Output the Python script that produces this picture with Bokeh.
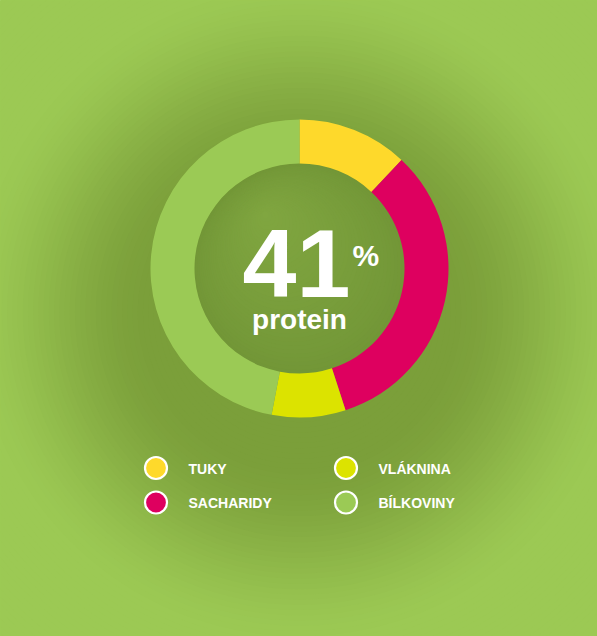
import math
from bokeh.plotting import figure
from bokeh.models import Range1d
from bokeh.core.properties import value
from bokeh.embed import file_html
from bokeh.resources import INLINE

# ---- data ----
categories = ["TUKY", "SACHARIDY", "VLÁKNINA", "BÍLKOVINY"]
shares = [12, 33, 8, 47]
colors = ["#FED92B", "#DE005F", "#DCE300", "#9BCA55"]
headline_value = "41"
headline_unit = "%"
headline_label = "protein"

W, H = 597, 636
BG_OUT = (0x9C, 0xC9, 0x54)
BG_IN = (0x7B, 0x9F, 0x3A)
DISC_DARK = (0x72, 0x96, 0x37)
DISC_LIGHT = (0x80, 0xA6, 0x40)

p = figure(width=W, height=H, output_backend="svg", toolbar_location=None,
           x_range=Range1d(0, W), y_range=Range1d(0, H),
           min_border=0, outline_line_color=None)
p.axis.visible = False
p.grid.visible = False
p.background_fill_color = "#9CC954"
p.border_fill_color = "#9CC954"

def Y(y):
    return H - y

def mix(a, b, t):
    return "#%02x%02x%02x" % tuple(int(round(a[i] + (b[i] - a[i]) * t)) for i in range(3))

# radial background gradient
gx, gy = 299, 312
N = 90
rs, cs = [], []
for k in range(N):
    r = 470 * (1 - k / N)
    t = (r - 150) / (340 - 150)
    t = min(1, max(0, t))
    t = t * t * (3 - 2 * t)
    rs.append(r)
    cs.append(mix(BG_IN, BG_OUT, t))
p.circle(x=[gx] * N, y=[Y(gy)] * N, radius=rs, fill_color=cs, line_color=None)

# donut
cx, cy = 299, 268
r_in, r_out = 105, 149
fx, fy = cx - 35, cy - 55
M = 40
dxs, dys, drs, dcs = [], [], [], []
for k in range(M):
    f = k / M
    dxs.append(cx + (fx - cx) * f)
    dys.append(Y(cy + (fy - cy) * f))
    drs.append(r_in * (1 - f) + 0.5)
    dcs.append(mix(DISC_DARK, DISC_LIGHT, f ** 0.8))
p.circle(x=dxs, y=dys, radius=drs, fill_color=dcs, line_color=None)

total = sum(shares)
starts, ends = [], []
acc = 0
for s in shares:
    starts.append(math.pi / 2 - 2 * math.pi * acc / total)
    acc += s
    ends.append(math.pi / 2 - 2 * math.pi * acc / total)
p.annular_wedge(x=[cx] * len(shares), y=[Y(cy)] * len(shares),
                inner_radius=r_in, outer_radius=r_out,
                start_angle=starts, end_angle=ends, direction="clock",
                fill_color=colors, line_color=None)

font = "Liberation Sans"
p.text(x=[296], y=[Y(296.5 - 0.345 * 97)], text=[headline_value], text_font=value(font),
       text_font_style="bold", text_font_size="97px", text_color="white",
       text_align="center", text_baseline="alphabetic")
p.text(x=[352], y=[Y(266 - 0.36 * 30)], text=[headline_unit], text_font=value(font),
       text_font_style="bold", text_font_size="30px", text_color="white",
       text_align="left", text_baseline="alphabetic")
p.text(x=[299], y=[Y(329 - 0.36 * 28)], text=[headline_label], text_font=value(font),
       text_font_style="bold", text_font_size="28px", text_color="white",
       text_align="center", text_baseline="alphabetic")

# legend
lx = [155.5 + 190 * (i // 2) for i in range(len(categories))]
ly = [467.5 + 34.5 * (i % 2) for i in range(len(categories))]
p.scatter(x=lx, y=[Y(v) for v in ly], size=22, marker="circle",
          fill_color=colors, line_color="white", line_width=2.2)
p.text(x=[v + 32.5 for v in lx], y=[Y(v + 0.5) for v in ly], text=categories,
       text_font=value(font), text_font_style="bold",
       text_font_size="14px", text_color="white",
       text_align="left", text_baseline="alphabetic")

open("out.html", "w").write(file_html(p, INLINE))
